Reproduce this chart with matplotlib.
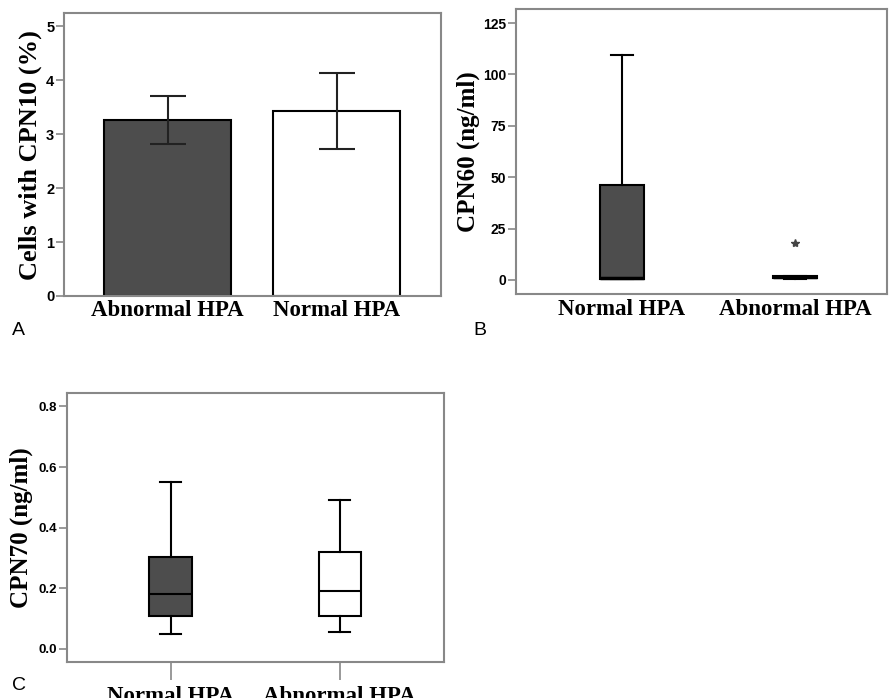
import numpy as np
import matplotlib.pyplot as plt

# Panel A: bar chart with error bars
groups_a = ['Abnormal HPA', 'Normal HPA']
cpn10_mean = [3.26, 3.43]
cpn10_low = [2.81, 2.73]
cpn10_high = [3.70, 4.13]

# Panel B: CPN60 box plot summary
groups_b = ['Normal HPA', 'Abnormal HPA']
cpn60_stats = [
    dict(whislo=0.3, q1=0.6, med=1.0, q3=46.0, whishi=109.5, fliers=[]),
    dict(whislo=0.3, q1=0.7, med=1.2, q3=1.8, whishi=2.0, fliers=[18.0]),
]

# Panel C: CPN70 box plot summary
groups_c = ['Normal HPA', 'Abnormal HPA']
cpn70_stats = [
    dict(whislo=0.05, q1=0.11, med=0.18, q3=0.305, whishi=0.55, fliers=[]),
    dict(whislo=0.057, q1=0.11, med=0.19, q3=0.32, whishi=0.49, fliers=[]),
]

dark = '#4d4d4d'
frame = '#888888'
serif = ['Liberation Serif', 'DejaVu Serif']
sans = ['Liberation Sans', 'DejaVu Sans']

fig = plt.figure(figsize=(8.89, 6.98), dpi=100)


def style(ax, tsize):
    for s in ax.spines.values():
        s.set_color(frame)
        s.set_linewidth(1.5)
    ax.tick_params(axis='y', length=6, width=1.2, color=frame, pad=1,
                   labelsize=tsize)
    for t in ax.get_yticklabels():
        t.set_fontfamily(sans)
        t.set_fontweight('bold')


# ---- A ----
axA = fig.add_axes([0.072, 0.576, 0.424, 0.405])
xa = np.arange(len(groups_a))
err = [np.array(cpn10_mean) - np.array(cpn10_low),
       np.array(cpn10_high) - np.array(cpn10_mean)]
axA.bar(xa, cpn10_mean, width=0.75, color=[dark, 'white'],
        edgecolor='black', linewidth=1.5)
axA.errorbar(xa, cpn10_mean, yerr=err, fmt='none', ecolor='#222222',
             elinewidth=1.5, capsize=13, capthick=1.5)
axA.set_xlim(-0.611, 1.614)
axA.set_ylim(0, 5.24)
axA.set_yticks([0, 1, 2, 3, 4, 5])
axA.set_xticks(xa)
axA.set_xticklabels(groups_a, fontfamily=serif, fontweight='bold', fontsize=16.5)
axA.tick_params(axis='x', length=0, pad=3)
axA.set_ylabel('Cells with CPN10 (%)', fontfamily=serif, fontweight='bold',
               fontsize=19, labelpad=3)
style(axA, 10.5)

# ---- B ----
axB = fig.add_axes([0.580, 0.579, 0.418, 0.408])
bp = axB.bxp(cpn60_stats, positions=[1, 2], widths=0.255, patch_artist=True,
             boxprops=dict(linewidth=1.5, edgecolor='black'),
             medianprops=dict(color='black', linewidth=2.5),
             whiskerprops=dict(color='black', linewidth=1.5),
             capprops=dict(color='black', linewidth=1.5),
             flierprops=dict(marker='*', markersize=6, markerfacecolor='#444444',
                             markeredgecolor='#444444'))
bp['boxes'][0].set_facecolor(dark)
bp['boxes'][1].set_facecolor(dark)
axB.set_xlim(0.387, 2.532)
axB.set_ylim(-6.8, 131.8)
axB.set_yticks([0, 25, 50, 75, 100, 125])
axB.set_xticks([1, 2])
axB.set_xticklabels(groups_b, fontfamily=serif, fontweight='bold', fontsize=16.5)
axB.tick_params(axis='x', length=0, pad=4)
axB.set_ylabel('CPN60 (ng/ml)', fontfamily=serif, fontweight='bold',
               fontsize=18, labelpad=2)
style(axB, 10)

# ---- C ----
axC = fig.add_axes([0.075, 0.0516, 0.424, 0.386])
bp = axC.bxp(cpn70_stats, positions=[1, 2], widths=0.25, patch_artist=True,
             boxprops=dict(linewidth=1.5, edgecolor='black'),
             medianprops=dict(color='black', linewidth=1.5),
             whiskerprops=dict(color='black', linewidth=1.5),
             capprops=dict(color='black', linewidth=1.5))
bp['boxes'][0].set_facecolor(dark)
bp['boxes'][1].set_facecolor('white')
axC.set_xlim(0.385, 2.615)
axC.set_ylim(-0.043, 0.846)
axC.set_yticks([0.0, 0.2, 0.4, 0.6, 0.8])
axC.set_yticklabels(['0.0', '0.2', '0.4', '0.6', '0.8'])
axC.set_xticks([1, 2])
axC.set_xticklabels(groups_c, fontfamily=serif, fontweight='bold', fontsize=16.5)
axC.tick_params(axis='x', length=13, width=1.2, color=frame, pad=4)
axC.set_ylabel('CPN70 (ng/ml)', fontfamily=serif, fontweight='bold',
               fontsize=18, labelpad=4)
style(axC, 9.5)

# panel letters
fig.text(12 / 889, 1 - 335 / 698, 'A', fontfamily=sans, fontsize=14)
fig.text(473 / 889, 1 - 335 / 698, 'B', fontfamily=sans, fontsize=14)
fig.text(12 / 889, 1 - 690 / 698, 'C', fontfamily=sans, fontsize=14)

fig.savefig('out.png', dpi=100)
